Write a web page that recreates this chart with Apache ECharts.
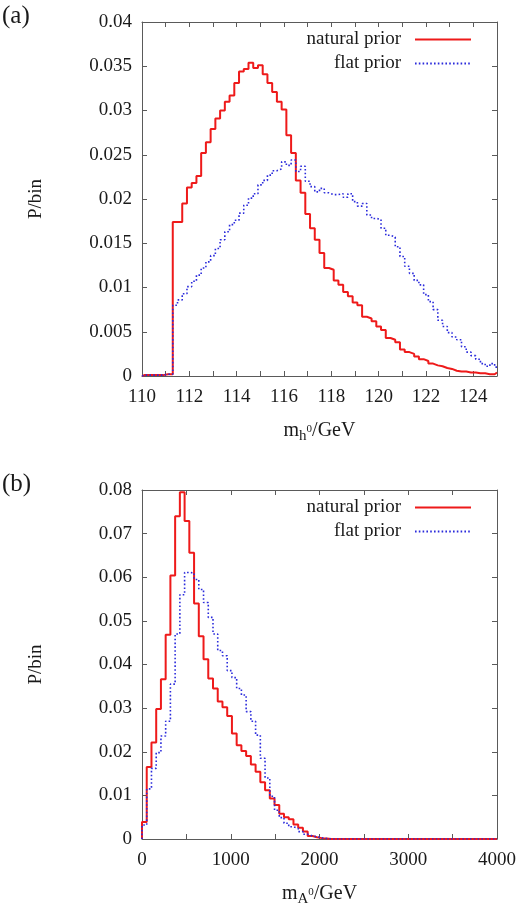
<!DOCTYPE html>
<html>
<head>
<meta charset="utf-8">
<script src="https://cdn.jsdelivr.net/npm/echarts@6/dist/echarts.min.js"></script>
<style>
html,body{margin:0;padding:0;background:#fff;}
#c{width:522px;height:908px;}
</style>
</head>
<body>
<div id="c"></div>
<script>
// ---- Panel (a): m_h0 histogram, 75 bins of 0.2 GeV, steps start at 110.1 ----
const aBinStart = 110.1;
const aBinWidth = 0.2;
const aNatural = [0.0001,0.0001,0.0001,0.0001,0.0002,0.0002,
  0.0174,0.0174,0.0195,0.0213,0.0218,0.0226,0.0252,0.0264,0.0279,0.0291,
  0.0300,0.0310,0.0317,0.0331,0.0344,0.0347,0.0354,0.0348,0.0351,0.0341,
  0.0331,0.0321,0.0310,0.0301,0.0272,0.0252,0.0221,0.0207,0.0183,0.0167,
  0.0154,0.0139,0.0122,0.0120,0.0108,0.0103,0.0095,0.0090,0.0083,0.0080,
  0.0067,0.0065,0.0062,0.0056,0.0052,0.0043,0.0041,0.0038,0.0030,0.0027,
  0.0025,0.0022,0.0019,0.0017,0.0014,0.0012,0.0011,0.0009,0.0008,0.0006,
  0.0005,0.0005,0.0004,0.0004,0.0003,0.0003,0.0002,0.0002,0.0004];
const aFlat = [0.0001,0.0001,0.0001,0.0001,0.0002,0.0002,
  0.0080,0.0086,0.0093,0.0101,0.0107,0.0114,0.0122,0.0129,0.0136,0.0144,
  0.0154,0.0163,0.0171,0.0176,0.0184,0.0193,0.0201,0.0206,0.0216,0.0221,
  0.0227,0.0232,0.0234,0.0242,0.0238,0.0244,0.0231,0.0237,0.0220,0.0214,
  0.0208,0.0212,0.0207,0.0205,0.0205,0.0206,0.0202,0.0206,0.0197,0.0192,
  0.0195,0.0182,0.0178,0.0177,0.0167,0.0159,0.0157,0.0146,0.0135,0.0124,
  0.0116,0.0108,0.0103,0.0092,0.0084,0.0075,0.0063,0.0056,0.0049,0.0044,
  0.0041,0.0033,0.0027,0.0023,0.0019,0.0014,0.0011,0.0014,0.0010];

// ---- Panel (b): m_A0 histogram, 75 bins of 4000/75 GeV starting at 0 ----
const bBinStart = 0;
const bBinWidth = 4000 / 75;
const bNatural = [0.0039,0.0165,0.0221,0.0298,0.0366,0.0468,0.0604,0.0740,
  0.0795,0.0729,0.0656,0.0540,0.0465,0.0412,0.0368,0.0345,0.0315,0.0302,
  0.0282,0.0242,0.0215,0.0202,0.0190,0.0171,0.0154,0.0130,0.0112,0.0093,
  0.0078,0.0058,0.0050,0.0045,0.0033,0.0026,0.0017,0.0007,0.0004,0.0002,
  0.0001,0,0,0,0,0,0,0,0,0,0,0,0,0,0,0,0,0,0,0,0,0,0,0,0,0,0,0,0,0,0,0,0,0,0,0,0];
const bFlat = [0.0032,0.0115,0.0162,0.0198,0.0236,0.0270,0.0355,0.0470,
  0.0560,0.0611,0.0610,0.0595,0.0572,0.0542,0.0508,0.0470,0.0432,0.0420,
  0.0386,0.0370,0.0345,0.0330,0.0292,0.0270,0.0238,0.0185,0.0140,0.0098,
  0.0066,0.0049,0.0036,0.0028,0.0024,0.0017,0.0011,0.0007,0.0005,0.0003,
  0.0001,0,0,0,0,0,0,0,0,0,0,0,0,0,0,0,0,0,0,0,0,0,0,0,0,0,0,0,0,0,0,0,0,0,0,0,0];

// axis ranges / ticks
const aXMin = 110, aXMax = 125, aXTick = 1, aXLabelEvery = 2;
const aYMin = 0, aYMax = 0.04, aYTick = 0.005;
const bXMin = 0, bXMax = 4000, bXTick = 500, bXLabelEvery = 1000;
const bYMin = 0, bYMax = 0.08, bYTick = 0.01;
const seriesNames = ['natural prior', 'flat prior'];

function histPoints(vals, start, width, axMin, axMax) {
  const pts = [[axMin, 0]];
  pts.push([axMin, vals[0]]);
  for (let i = 0; i < vals.length; i++) pts.push([start + width * i, vals[i]]);
  pts.push([axMax, vals[vals.length - 1]]);
  return pts;
}

const AX = '#5a5a5a';
const TXT = '#1a1a1a';
const FONT = '"Liberation Serif", "DejaVu Serif", serif';

function xAx(grid, min, max, step, every, pos, labels, nameRich) {
  const o = {
    type: 'value', gridIndex: grid, min: min, max: max, interval: step, position: pos,
    axisLine: {show: true, onZero: false, lineStyle: {color: AX, width: 1}},
    axisTick: {show: true, inside: true, length: 5, lineStyle: {color: AX}},
    splitLine: {show: false},
    axisLabel: {show: labels, margin: 12, color: TXT, fontFamily: FONT, fontSize: 19,
      showMaxLabel: true, showMinLabel: true, hideOverlap: false,
      formatter: function (v) { return (Math.abs(v % every) < 1e-9) ? String(v) : ''; }}
  };
  if (nameRich) {
    o.name = nameRich;
    o.nameLocation = 'middle';
    o.nameGap = 42;
    o.nameTextStyle = {color: TXT, fontFamily: FONT, fontSize: 20, lineHeight: 26,
      rich: {
        m: {fontFamily: FONT, fontSize: 20, color: TXT},
        s: {fontFamily: FONT, fontSize: 15, color: TXT, padding: [11, 0, 0, 0]},
        p: {fontFamily: FONT, fontSize: 11, color: TXT, padding: [0, 0, 3, 0]}
      }};
  }
  return o;
}
function yAx(grid, min, max, step, pos, labels) {
  const o = {
    type: 'value', gridIndex: grid, min: min, max: max, interval: step, position: pos,
    axisLine: {show: true, onZero: false, lineStyle: {color: AX, width: 1}},
    axisTick: {show: true, inside: true, length: 5, lineStyle: {color: AX}},
    splitLine: {show: false},
    axisLabel: {show: labels, margin: 10, color: TXT, fontFamily: FONT, fontSize: 19}
  };
  if (labels) {
    o.name = 'P/bin';
    o.nameLocation = 'middle';
    o.nameGap = 96;
    o.nameRotate = 90;
    o.nameTextStyle = {color: TXT, fontFamily: FONT, fontSize: 19};
  }
  return o;
}

function mkSeries(name, xi, yi, pts, color, dotted) {
  return {
    name: name, type: 'line', xAxisIndex: xi, yAxisIndex: yi, data: pts, step: 'end',
    symbol: 'none', clip: true, animation: false, z: 3,
    lineStyle: dotted ? {color: color, width: 1.6, type: [1.6, 2.2]} : {color: color, width: 2},
    itemStyle: {color: color}
  };
}

const RED = '#ee1a1a';
const BLUE = '#2b2bdb';

function legend(top) {
  return {
    data: seriesNames, orient: 'vertical', right: 50, top: top, align: 'right',
    itemWidth: 56, itemHeight: 12, itemGap: 5, padding: 0, selectedMode: false,
    itemStyle: {opacity: 0, borderWidth: 0},
    textStyle: {color: TXT, fontFamily: FONT, fontSize: 19, lineHeight: 16, padding: [0, 9, 0, 0]}
  };
}

const chart = echarts.init(document.getElementById('c'), null, {renderer: 'canvas'});
chart.setOption({
  animation: false,
  backgroundColor: '#ffffff',
  grid: [
    {left: 142, top: 22, width: 355, height: 354},
    {left: 142, top: 490, width: 355, height: 354}
  ],
  xAxis: [
    xAx(0, aXMin, aXMax, aXTick, aXLabelEvery, 'bottom', true, '{m|m}{s|h}{p|0}{m|/GeV}'),
    xAx(0, aXMin, aXMax, aXTick, aXLabelEvery, 'top', false, null),
    xAx(1, bXMin, bXMax, bXTick, bXLabelEvery, 'bottom', true, '{m|m}{s|A}{p|0}{m|/GeV}'),
    xAx(1, bXMin, bXMax, bXTick, bXLabelEvery, 'top', false, null)
  ],
  yAxis: [
    yAx(0, aYMin, aYMax, aYTick, 'left', true),
    yAx(0, aYMin, aYMax, aYTick, 'right', false),
    yAx(1, bYMin, bYMax, bYTick, 'left', true),
    yAx(1, bYMin, bYMax, bYTick, 'right', false)
  ],
  legend: [legend(30), legend(498)],
  series: [
    mkSeries(seriesNames[0], 0, 0, histPoints(aNatural, aBinStart, aBinWidth, aXMin, aXMax), RED, false),
    mkSeries(seriesNames[1], 0, 0, histPoints(aFlat, aBinStart, aBinWidth, aXMin, aXMax), BLUE, true),
    mkSeries(seriesNames[0], 2, 2, histPoints(bNatural, bBinStart, bBinWidth, bXMin, bXMax), RED, false),
    mkSeries(seriesNames[1], 2, 2, histPoints(bFlat, bBinStart, bBinWidth, bXMin, bXMax), BLUE, true)
  ],
  graphic: [
    {type: 'text', left: 2, top: 4, style: {text: '(a)', fontFamily: FONT, fontSize: 25, fill: TXT}},
    {type: 'text', left: 2, top: 472, style: {text: '(b)', fontFamily: FONT, fontSize: 25, fill: TXT}}
  ]
});
</script>
</body>
</html>
